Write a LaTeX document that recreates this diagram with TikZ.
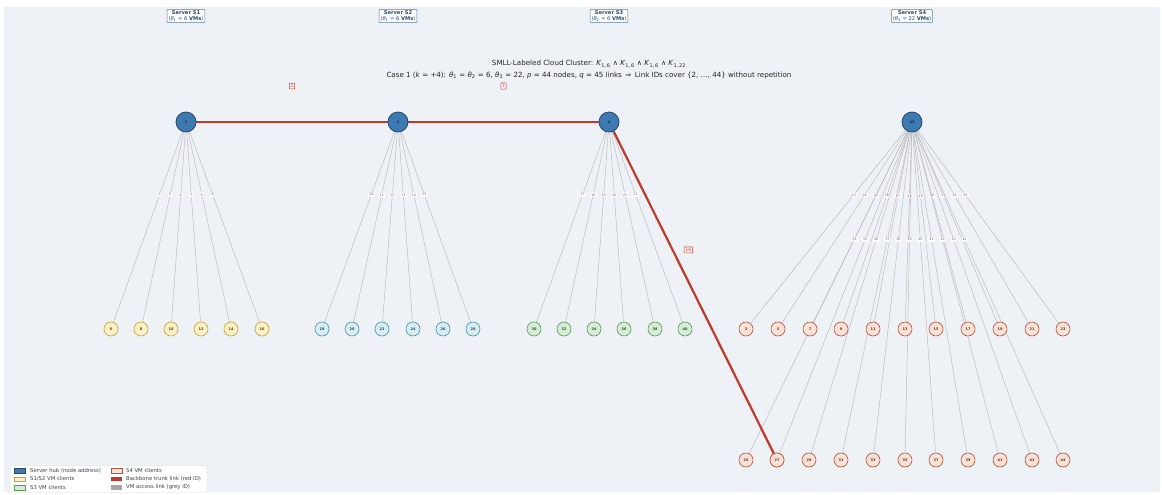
\documentclass[tikz,border=0pt]{standalone}
\usepackage{fontspec}
\setmainfont{DejaVu Sans}
\pgfdeclarelayer{back}
\pgfdeclarelayer{links}
\pgfsetlayers{back,links,main}
\definecolor{bgcol}{RGB}{238,241,246}
\definecolor{hubfill}{RGB}{62,122,178}
\definecolor{hubedge}{RGB}{38,72,112}
\definecolor{hubtext}{RGB}{20,35,60}
\definecolor{sonefill}{RGB}{253,240,195}
\definecolor{soneedge}{RGB}{198,162,60}
\definecolor{stwofill}{RGB}{212,238,243}
\definecolor{stwoedge}{RGB}{72,148,162}
\definecolor{sthreefill}{RGB}{214,237,214}
\definecolor{sthreeedge}{RGB}{88,152,88}
\definecolor{sfourfill}{RGB}{252,224,212}
\definecolor{sfouredge}{RGB}{172,84,60}
\definecolor{trunkred}{RGB}{192,57,43}
\definecolor{linkgrey}{RGB}{185,185,188}
\definecolor{idgrey}{RGB}{110,110,110}
\definecolor{boxblue}{RGB}{80,125,165}
\definecolor{boxtext}{RGB}{40,75,110}
\begin{document}
\begin{tikzpicture}[x=1pt,y=-1pt,
  hub/.style={circle, draw=hubedge, fill=hubfill, line width=0.8pt, minimum size=20pt,
    inner sep=0pt, font=\fontsize{3.5}{4}\selectfont\bfseries, text=hubtext},
  client/.style={circle, line width=0.6pt, minimum size=14pt, inner sep=0pt,
    font=\fontsize{3.5}{4}\selectfont\bfseries, text=black!75},
  cone/.style={client, draw=soneedge, fill=sonefill},
  ctwo/.style={client, draw=stwoedge, fill=stwofill},
  cthree/.style={client, draw=sthreeedge, fill=sthreefill},
  cfour/.style={client, draw=sfouredge, fill=sfourfill},
  access/.style={draw=linkgrey, line width=0.45pt},
  trunk/.style={draw=trunkred, line width=2.2pt},
  gid/.style={fill=white, inner sep=1pt, rounded corners=0.4pt,
    font=\fontsize{3.4}{3.4}\selectfont, text=idgrey},
  rid/.style={draw=trunkred, fill=white, inner sep=1.2pt, rounded corners=0.5pt,
    line width=0.5pt, font=\fontsize{4.8}{5}\selectfont, text=trunkred, yshift=36pt},
  serverbox/.style={draw=boxblue, fill=white, line width=0.5pt, rounded corners=0.8pt,
    inner sep=1.3pt, align=center, font=\fontsize{5.2}{5.9}\selectfont, text=boxtext},
  legpatch/.style={minimum width=11pt, minimum height=4.5pt, inner sep=0pt, line width=0.4pt},
  legtext/.style={anchor=west, inner sep=0pt, font=\fontsize{5.3}{5.6}\selectfont, text=black!75}
]
\useasboundingbox (0,0) rectangle (1162,495);
\begin{pgfonlayer}{back}
  \fill[white] (0,0) rectangle (1162,495);
  \fill[bgcol] (4,7) rectangle (1160,492);
\end{pgfonlayer}

% title
\node[font=\fontsize{7.1}{8}\selectfont, text=black!85] (title1) at (589,64)
  {SMLL-Labeled Cloud Cluster: \textit{K}\textsubscript{1,\,6} ∧ \textit{K}\textsubscript{1,\,6} ∧ \textit{K}\textsubscript{1,\,6} ∧ \textit{K}\textsubscript{1,\,22}};
\node[font=\fontsize{7.1}{8}\selectfont, text=black!85] (title2) at (589,75.5)
  {Case 1 (\textit{k} = +4): \textit{θ}\textsubscript{1} = \textit{θ}\textsubscript{2} = 6, \textit{θ}\textsubscript{3} = 22, \textit{p} = 44 nodes, \textit{q} = 45 links\enspace ⇒\enspace Link IDs cover \{2, …, 44\} without repetition};

% server captions
\node[serverbox] (cap1) at (186,16) {\textbf{Server S1}\\(\textit{θ}\textsubscript{1} = 6 \textbf{VMs})};
\node[serverbox] (cap2) at (398,16) {\textbf{Server S2}\\(\textit{θ}\textsubscript{1} = 6 \textbf{VMs})};
\node[serverbox] (cap3) at (609,16) {\textbf{Server S3}\\(\textit{θ}\textsubscript{2} = 6 \textbf{VMs})};
\node[serverbox] (cap4) at (912,16) {\textbf{Server S4}\\(\textit{θ}\textsubscript{3} = 22 \textbf{VMs})};

% server hubs
\node[hub] (n1) at (186,122) {1};
\node[hub] (n2) at (398,122) {2};
\node[hub] (n4) at (609,122) {4};
\node[hub] (n43) at (912,122) {43};

% VM clients and their access links (ID = ceil((u+v)/2))
\foreach \v/\x in {6/111,8/141,10/171,12/201,14/231,16/262}{
  \node[cone] (n\v) at (\x,329) {\v};
  \pgfmathtruncatemacro\lab{(1+\v+1)/2}
  \begin{pgfonlayer}{links}
    \draw[access] (n1) -- node[gid, pos=0.33] (id\v) {\lab} (n\v);
  \end{pgfonlayer}
}
\foreach \v/\x in {18/322,20/352,22/382,24/413,26/443,28/473}{
  \node[ctwo] (n\v) at (\x,329) {\v};
  \pgfmathtruncatemacro\lab{(2+\v+1)/2}
  \begin{pgfonlayer}{links}
    \draw[access] (n2) -- node[gid, pos=0.33] (id\v) {\lab} (n\v);
  \end{pgfonlayer}
}
\foreach \v/\x in {30/534,32/564,34/594,36/624,38/655,40/685}{
  \node[cthree] (n\v) at (\x,329) {\v};
  \pgfmathtruncatemacro\lab{(4+\v+1)/2}
  \begin{pgfonlayer}{links}
    \draw[access] (n4) -- node[gid, pos=0.33] (id\v) {\lab} (n\v);
  \end{pgfonlayer}
}
\foreach \v/\x/\y in {3/746/329,5/778/329,7/810/329,9/841/329,11/873/329,13/905/329,
  15/936/329,17/968/329,19/1000/329,21/1032/329,23/1063/329,
  25/746/460,27/777/460,29/809/460,31/841/460,33/873/460,35/905/460,
  37/936/460,39/968/460,41/1000/460,42/1032/460,44/1063/460}{
  \node[cfour] (n\v) at (\x,\y) {\v};
  \pgfmathtruncatemacro\lab{(43+\v+1)/2}
  \begin{pgfonlayer}{links}
    \draw[access] (n43) -- node[gid, pos=0.335] (id\v) {\lab} (n\v);
  \end{pgfonlayer}
}

% backbone trunk
\begin{pgfonlayer}{links}
  \draw[trunk] (n1) -- node[rid] (t12) {2} (n2);
  \draw[trunk] (n2) -- node[rid] (t24) {3} (n4);
  \draw[trunk] (n4) -- node[rid, pos=0.47, xshift=-2pt] (t427) {16} (n27.center);
\end{pgfonlayer}
\node[cfour] at (n27) {27};

% legend
\node[draw=black!15, fill=white, line width=0.4pt, minimum width=197pt, minimum height=27pt,
  inner sep=0pt, rounded corners=0.8pt] (legend) at (108.5,479) {};
\node[legpatch, draw=hubedge, fill=hubfill] (lp1) at (19.5,470.5) {};
\node[legtext] (lt1) at (30,470.5) {Server hub (node address)};
\node[legpatch, draw=soneedge, fill=sonefill] (lp2) at (19.5,479) {};
\node[legtext] (lt2) at (30,479) {S1/S2 VM clients};
\node[legpatch, draw=sthreeedge, fill=sthreefill] (lp3) at (19.5,487.5) {};
\node[legtext] (lt3) at (30,487.5) {S3 VM clients};
\node[legpatch, draw=sfouredge, fill=sfourfill] (lp4) at (116.5,470.5) {};
\node[legtext] (lt4) at (126,470.5) {S4 VM clients};
\node[legpatch, fill=trunkred] (lp5) at (116.5,479) {};
\node[legtext] (lt5) at (126,479) {Backbone trunk link (red ID)};
\node[legpatch, fill=black!35] (lp6) at (116.5,487.5) {};
\node[legtext] (lt6) at (126,487.5) {VM access link (grey ID)};
\end{tikzpicture}
\end{document}
